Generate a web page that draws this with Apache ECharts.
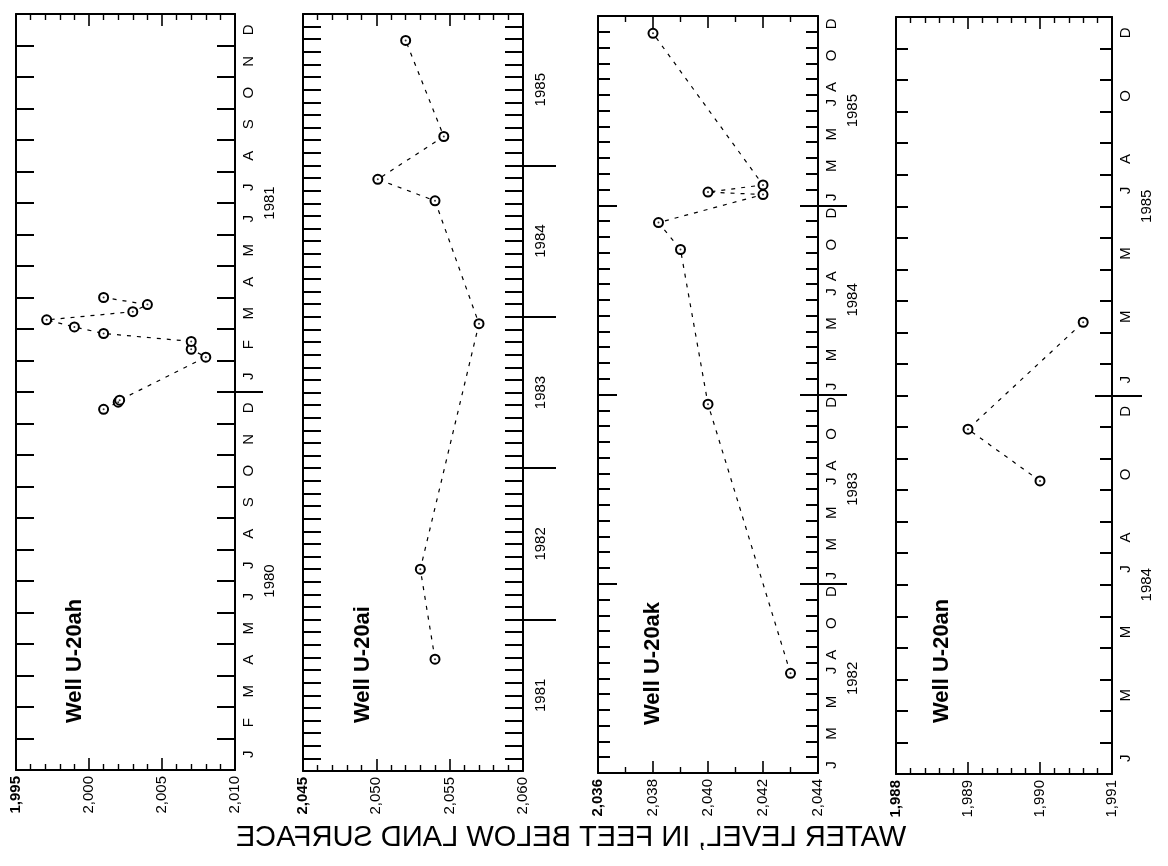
<!DOCTYPE html>
<html><head><meta charset="utf-8">
<script src="https://cdn.jsdelivr.net/npm/echarts@6/dist/echarts.min.js"></script>
<style>html,body{margin:0;padding:0;background:#fff}#c{width:1168px;height:866px}</style>
</head><body><div id="c"></div>
<script>
// ---------- DATA ----------
const wellNames = ['Well U-20ah', 'Well U-20ai', 'Well U-20ak', 'Well U-20an'];
const startYears = [1980, 1981, 1982, 1984];
const yearCounts = [2, 5, 4, 2];
const levelMin = [1995, 2045, 2036, 1988];
const levelMax = [2010, 2060, 2044, 1991];
const levelStep = [5, 5, 2, 1];
const levelMinorSplit = [5, 5, 2, 5];
const monthLetters = ['J', 'F', 'M', 'A', 'M', 'J', 'J', 'A', 'S', 'O', 'N', 'D'];
const monthLabelsShown = [
  [0, 1, 2, 3, 4, 5, 6, 7, 8, 9, 10, 11],
  [],
  [0, 2, 4, 6, 7, 9, 11],
  [0, 2, 4, 6, 7, 9, 11]
];
const axisTitle = 'WATER LEVEL, IN FEET BELOW LAND SURFACE';

const u20ahDates = ['1980-12-15', '1980-12-22', '1980-12-24', '1981-02-04', '1981-02-11', '1981-02-18',
  '1981-02-25', '1981-03-03', '1981-03-10', '1981-03-18', '1981-03-25', '1981-04-01'];
const u20ahLevels = [2001.0, 2002.0, 2002.1, 2008.0, 2007.0, 2007.0, 2001.0, 1999.0, 1997.1, 2003.0, 2004.0, 2001.0];

const u20aiDates = ['1981-09-27', '1982-05-01', '1983-12-15', '1984-10-07', '1984-11-28', '1985-03-10', '1985-10-29'];
const u20aiLevels = [2054.0, 2053.0, 2057.0, 2054.0, 2050.1, 2054.6, 2052.0];

const u20akDates = ['1982-07-11', '1983-12-13', '1984-10-07', '1984-11-28', '1985-01-22', '1985-01-27', '1985-02-09', '1985-11-28'];
const u20akLevels = [2043.0, 2040.0, 2039.0, 2038.2, 2042.0, 2040.0, 2042.0, 2038.0];

const u20anDates = ['1984-10-10', '1984-11-29', '1985-03-11'];
const u20anLevels = [1990.0, 1989.0, 1990.6];

const wellDates = [u20ahDates, u20aiDates, u20akDates, u20anDates];
const wellLevels = [u20ahLevels, u20aiLevels, u20akLevels, u20anLevels];

// ---------- LAYOUT ----------
const grids = [
  {left: 16, top: 14, width: 219, height: 756},
  {left: 303, top: 14, width: 220, height: 757},
  {left: 598, top: 16, width: 220, height: 757},
  {left: 896, top: 17, width: 216, height: 757}
];
const monthTickLen = [18, 18, 12, 12];
const yearOuterTick = [28, 33, 29, 30];
const yearInnerRight = [0, 0, 18, 17];
const yearInnerLeft = [0, 0, 19, 0];
const yearLabelMargin = [27, 10, 27, 27];
const labelPos = [[75, 723], [363, 723], [653, 725], [942, 723]];

const FONT = '"Liberation Sans", Arial, Helvetica, sans-serif';

function monthIndex(s, y0) {
  const [y, m, d] = s.split('-').map(Number);
  const dim = new Date(y, m, 0).getDate();
  return (y - y0) * 12 + (m - 1) + (d - 1) / dim;
}
function fmtLevel(v) {
  return Math.round(v).toLocaleString('en-US');
}
function range(a, b, step) { const r = []; for (let v = a; v <= b + 1e-9; v += step) r.push(v); return r; }

const xAxis = [], yAxis = [], series = [], graphic = [];
const blk = '#000';

grids.forEach((g, p) => {
  const N = yearCounts[p] * 12;
  const xBase = {
    gridIndex: p, type: 'value', min: levelMin[p], max: levelMax[p], interval: levelStep[p],
    axisLine: {onZero: false, lineStyle: {color: blk, width: 2}},
    axisTick: {inside: true, length: 12, lineStyle: {color: blk, width: 1.6}},
    minorTick: {show: true, splitNumber: levelMinorSplit[p], length: 6, lineStyle: {color: blk, width: 1.4}},
    splitLine: {show: false}, minorSplitLine: {show: false}
  };
  xAxis.push(Object.assign({}, xBase, {
    position: 'bottom',
    axisLabel: {
      rotate: 90, margin: 6, color: blk, fontFamily: FONT, fontSize: 15,
      formatter: (v) => (v === levelMin[p] ? '{b|' + fmtLevel(v) + '}' : fmtLevel(v)),
      rich: {b: {fontWeight: 'bold', fontSize: 15, fontFamily: FONT, color: blk}}
    }
  }));
  xAxis.push(Object.assign({}, xBase, {position: 'top', axisLabel: {show: false}}));

  const monthCustom = [];
  for (let yr = 0; yr < yearCounts[p]; yr++) monthLabelsShown[p].forEach(m => monthCustom.push(yr * 12 + m + 0.5));
  const yMonthIdx = yAxis.length;
  yAxis.push({
    gridIndex: p, type: 'value', position: 'right', min: 0, max: N, interval: 1,
    axisLine: {onZero: false, lineStyle: {color: blk, width: 2}},
    axisTick: {inside: true, length: monthTickLen[p], customValues: range(0, N, 1), lineStyle: {color: blk, width: 2}},
    axisLabel: {
      show: monthCustom.length > 0, customValues: monthCustom.length ? monthCustom : [0.5],
      rotate: 90, margin: 6, color: blk, fontFamily: FONT, fontSize: 15,
      formatter: (v) => monthLetters[Math.floor(v) % 12]
    },
    splitLine: {show: false}
  });
  yAxis.push({
    gridIndex: p, type: 'value', position: 'left', min: 0, max: N, interval: 1,
    axisLine: {onZero: false, lineStyle: {color: blk, width: 2}},
    axisTick: {inside: true, length: monthTickLen[p], customValues: range(0, N, 1), lineStyle: {color: blk, width: 2}},
    axisLabel: {show: false},
    splitLine: {show: false}
  });
  const yb = range(12, N - 12, 12);
  const ym = range(6, N - 6, 12);
  yAxis.push({
    gridIndex: p, type: 'value', position: 'right', min: 0, max: N,
    axisLine: {show: false},
    axisTick: {show: true, inside: false, length: yearOuterTick[p], customValues: yb, lineStyle: {color: blk, width: 2}},
    axisLabel: {
      customValues: ym, rotate: 90, margin: yearLabelMargin[p], color: blk, fontFamily: FONT, fontSize: 15,
      formatter: (v) => String(startYears[p] + Math.floor(v / 12))
    },
    splitLine: {show: false}
  });
  if (yearInnerRight[p]) {
    yAxis.push({
      gridIndex: p, type: 'value', position: 'right', min: 0, max: N,
      axisLine: {show: false},
      axisTick: {show: true, inside: true, length: yearInnerRight[p], customValues: yb, lineStyle: {color: blk, width: 2}},
      axisLabel: {show: false}, splitLine: {show: false}
    });
  }
  if (yearInnerLeft[p]) {
    yAxis.push({
      gridIndex: p, type: 'value', position: 'left', min: 0, max: N,
      axisLine: {show: false},
      axisTick: {show: true, inside: true, length: yearInnerLeft[p], customValues: yb, lineStyle: {color: blk, width: 2}},
      axisLabel: {show: false}, splitLine: {show: false}
    });
  }

  const pts = wellDates[p].map((d, i) => [wellLevels[p][i], monthIndex(d, startYears[p])]);
  series.push({
    type: 'line', xAxisIndex: 2 * p, yAxisIndex: yMonthIdx, data: pts,
    symbol: 'emptyCircle', symbolSize: 9, showSymbol: true, showAllSymbol: true,
    itemStyle: {color: blk, borderColor: blk, borderWidth: 1},
    lineStyle: {color: blk, width: 1.2, type: [4, 6]},
    animation: false, z: 3
  });
  series.push({
    type: 'scatter', xAxisIndex: 2 * p, yAxisIndex: yMonthIdx, data: pts,
    symbol: 'circle', symbolSize: 2, itemStyle: {color: blk}, animation: false, z: 4
  });

  graphic.push({
    type: 'text', x: labelPos[p][0], y: labelPos[p][1], rotation: Math.PI / 2,
    style: {text: wellNames[p], font: 'bold 22px ' + FONT, fill: blk, textAlign: 'left', textVerticalAlign: 'middle'}
  });
});

graphic.push({
  type: 'text', x: 571, y: 838, scaleX: -1,
  style: {text: axisTitle, font: '29px ' + FONT, fill: blk, textAlign: 'center', textVerticalAlign: 'middle'}
});

const chart = echarts.init(document.getElementById('c'), null, {renderer: 'canvas'});
chart.setOption({
  backgroundColor: '#fff',
  animation: false,
  grid: grids.map(g => Object.assign({containLabel: false}, g)),
  xAxis, yAxis, series, graphic
});
</script></body></html>
